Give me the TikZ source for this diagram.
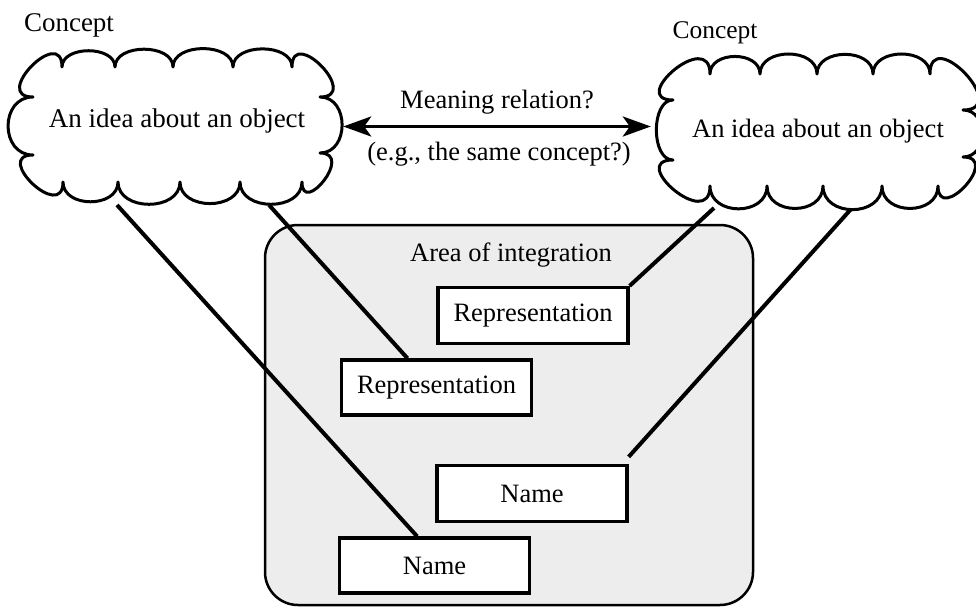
\documentclass[tikz,border=0pt]{standalone}
\usepackage{fontspec}
\setmainfont{Liberation Serif}
\usetikzlibrary{arrows.meta,calc}
\pgfdeclarelayer{shade}
\pgfdeclarelayer{links}
\pgfsetlayers{shade,links,main}
\begin{document}
\begin{tikzpicture}[x=1pt,y=1pt,
  lbl/.style={font=\fontsize{26.5}{30}\selectfont, inner sep=0pt},
  termbox/.style={draw, line width=3.3pt, fill=white, minimum width=190pt,
    minimum height=56pt, inner sep=0pt, font=\fontsize{26.5}{30}\selectfont},
  cloudline/.style={line width=3pt, line join=round, fill=white},
  link/.style={line width=4pt},
  areabox/.style={draw, line width=2.5pt, rounded corners=33pt, fill=black!7},
  ghost/.style={inner sep=0pt, minimum width=#1},
  >={Stealth[length=28pt, width=20pt, inset=7pt]},
  top/.style={out=90, in=90, looseness=#1},
  bot/.style={out=-90, in=-90, looseness=#1},
]
\useasboundingbox (0,0) rectangle (976,-607);

% shaded integration area
\begin{pgfonlayer}{shade}
\draw[areabox] (265,-225) rectangle (753,-605);
\end{pgfonlayer}
\node[lbl, anchor=base] (arealbl) at (511,-261) {Area of integration};

% invisible frames of the two concept clouds
\node[ghost=335pt, minimum height=153pt] (cloudL) at (175.5,-126.5) {};
\node[ghost=328pt, minimum height=155pt] (cloudR) at (821,-130.5) {};

% representation and name boxes
\node[termbox] (repA) at (533,-315.5) {Representation};
\node[termbox, minimum height=55pt] (repB) at (436.5,-387.5) {Representation};
\node[termbox] (nameA) at (532,-493.5) {Name};
\node[termbox, minimum height=55pt] (nameB) at (434.5,-565.5) {Name};

% points under the clouds where the links start
\coordinate (lcA) at (117,-205);
\coordinate (lcB) at (269,-205);
\coordinate (rcA) at (714,-208);
\coordinate (rcB) at (852,-208);

% links from the concepts to their representations and names
\begin{pgfonlayer}{links}
\draw[link] (lcA) -- ($(nameB.north west)!0.41!(nameB.north east)$);
\draw[link] (lcB) -- ($(repB.north west)!0.35!(repB.north east)$);
\draw[link] (rcA) -- (repA.north east);
\draw[link] (rcB) -- ($(nameA.north east)+(0,7)$);
\end{pgfonlayer}

% left cloud
\draw[cloudline] (33,-97) to[out=180,in=90,looseness=2.6] (62,-67)
  to[top=1.05] (115,-67) to[top=1.05] (173,-67) to[top=1.05] (233,-67)
  to[top=1.05] (292,-67)
  to[out=90,in=0,looseness=2.6] (320,-97)
  to[out=0,in=0,looseness=1.35] (320,-153)
  to[out=0,in=-90,looseness=2.6] (302,-182)
  to[bot=1.23] (240,-182) to[bot=1.23] (180,-182) to[bot=1.23] (118,-182)
  to[bot=1.23] (63,-182)
  to[out=-90,in=180,looseness=2.6] (33,-155)
  to[out=180,in=180,looseness=1.47] (33,-97) -- cycle;

% right cloud
\draw[cloudline] (673,-100) to[out=180,in=90,looseness=2.6] (710,-74)
  to[top=1.2] (760,-74) to[top=1.2] (817,-74) to[top=1.2] (873,-74)
  to[top=1.2] (930,-74)
  to[out=90,in=0,looseness=2.6] (963,-110)
  to[out=0,in=0,looseness=1.4] (963,-157)
  to[out=0,in=-90,looseness=2.6] (938,-186)
  to[bot=1.37] (882,-186) to[bot=1.37] (823,-186) to[bot=1.37] (767,-186)
  to[bot=1.37] (710,-186)
  to[out=-90,in=180,looseness=2.6] (673,-160)
  to[out=180,in=180,looseness=0.95] (673,-100) -- cycle;

% cloud texts and titles
\node[lbl, font=\fontsize{27}{30}\selectfont, anchor=base] (ideaL) at (177,-128) {An idea about an object};
\node[lbl, anchor=base] (ideaR) at (818,-137) {An idea about an object};
\node[lbl, font=\fontsize{27}{30}\selectfont, anchor=base] (conceptL) at (69,-32) {Concept};
\node[lbl, font=\fontsize{25.5}{30}\selectfont, anchor=base] (conceptR) at (715,-39) {Concept};

% meaning relation between the two concepts
\draw[line width=3.5pt, <->, shorten >=6pt]
  (cloudL.east) -- (cloudL.east -| cloudR.west);
\node[lbl, anchor=base] (meaning) at (497,-109) {Meaning relation?};
\node[lbl, anchor=base] (example) at (499,-160) {(e.g., the same concept?)};
\end{tikzpicture}
\end{document}
